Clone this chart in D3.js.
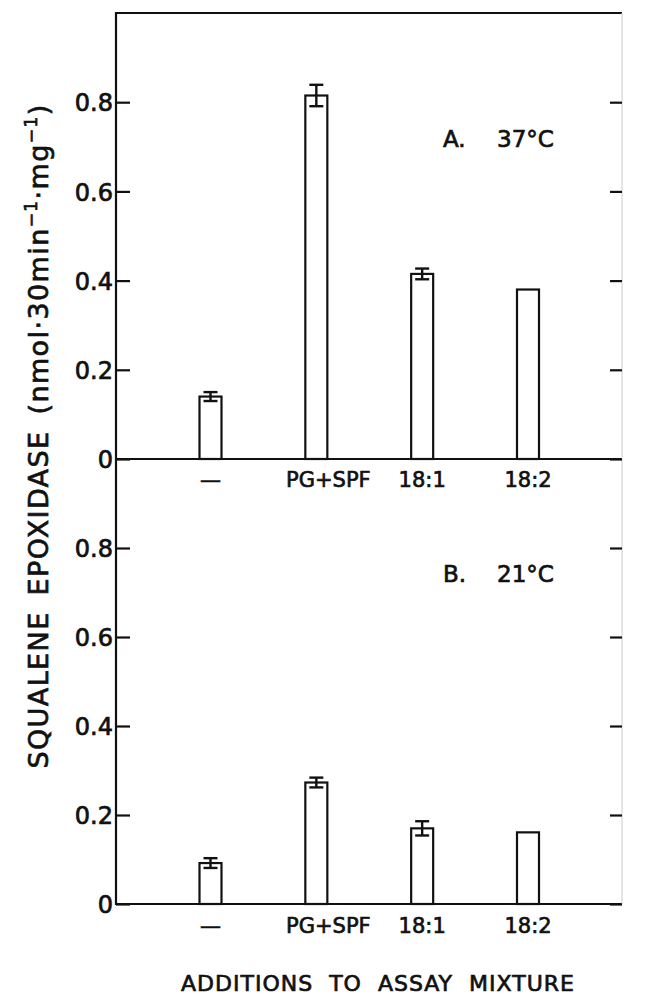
<!DOCTYPE html>
<html>
<head>
<meta charset="utf-8">
<script src="https://cdn.jsdelivr.net/npm/d3@7"></script>
<style>
  html, body { margin: 0; padding: 0; background: #fff; }
  svg { display: block; }
  text { font-family: "DejaVu Sans", "Liberation Sans", sans-serif; fill: #111; stroke: #111; stroke-width: 0.7px; }
</style>
</head>
<body>
<svg id="chart" width="645" height="996"></svg>
<script>
// ---- data ----
const categories = ["\u2014", "PG+SPF", "18:1", "18:2"];
const valuesA = [0.14, 0.815, 0.415, 0.38];      // A. 37°C
const errorsA = [0.01, 0.024, 0.012, 0];
const valuesB = [0.092, 0.273, 0.170, 0.161];    // B. 21°C
const errorsB = [0.011, 0.011, 0.016, 0];
const yTicks = [0, 0.2, 0.4, 0.6, 0.8];
const yTickLabels = ["0", "0.2", "0.4", "0.6", "0.8"];
const panelLabels = [["A.", "37\u00B0C"], ["B.", "21\u00B0C"]];
const xTitle = "ADDITIONS TO ASSAY MIXTURE";

// ---- layout ----
const svg = d3.select("#chart");
const fLeft = 116, fRight = 622;
const fTop = 13, fMid = 459, fBottom = 904;
const ink = "#111";

const x = d3.scalePoint().domain(categories).range([210.5, 528]);
const yA = d3.scaleLinear().domain([0, 1]).range([fMid, fTop]);
const yB = d3.scaleLinear().domain([0, 1]).range([fBottom, fMid]);
const barW = 22, capW = 14;

// frame
const frame = svg.append("g").attr("stroke", ink).attr("stroke-width", 2.2).attr("fill", "none");
frame.append("line").attr("x1", fLeft).attr("x2", fLeft).attr("y1", fTop - 1).attr("y2", fBottom + 1);
frame.append("line").attr("x1", fLeft - 1).attr("x2", fRight).attr("y1", fTop).attr("y2", fTop);
frame.append("line").attr("x1", fLeft - 1).attr("x2", fRight).attr("y1", fMid).attr("y2", fMid);
frame.append("line").attr("x1", fLeft - 1).attr("x2", fRight).attr("y1", fBottom).attr("y2", fBottom);
svg.append("line").attr("x1", fRight).attr("x2", fRight).attr("y1", fTop).attr("y2", fBottom)
  .attr("stroke", "#ccc").attr("stroke-width", 1);

function panel(y, values, errors, labels, labelBaseline, catBaseline) {
  const g = svg.append("g");
  // left axis ticks & labels
  const axL = d3.axisLeft(y).tickValues(yTicks).tickSize(-14)
    .tickFormat((d, i) => yTickLabels[i]).tickPadding(3);
  const gl = g.append("g").attr("transform", `translate(${fLeft},0)`).call(axL);
  gl.select(".domain").remove();
  gl.selectAll(".tick line").attr("stroke", ink).attr("stroke-width", 2.2);
  gl.selectAll(".tick text").attr("font-size", 24).attr("fill", ink)
    .attr("font-family", "DejaVu Sans").attr("dy", "0.36em");
  // right ticks
  const axR = d3.axisRight(y).tickValues(yTicks).tickSize(-12).tickFormat("");
  const gr = g.append("g").attr("transform", `translate(${fRight},0)`).call(axR);
  gr.select(".domain").remove();
  gr.selectAll(".tick line").attr("stroke", ink).attr("stroke-width", 2.2);

  // bars
  g.selectAll("rect.bar").data(values).join("rect")
    .attr("class", "bar")
    .attr("x", (d, i) => x(categories[i]) - barW / 2)
    .attr("width", barW)
    .attr("y", d => y(d))
    .attr("height", d => y(0) - y(d))
    .attr("fill", "#fff").attr("stroke", ink).attr("stroke-width", 2.2);

  // error bars
  const eb = g.selectAll("g.err").data(values.map((v, i) => ({v, e: errors[i], c: categories[i]})).filter(d => d.e > 0))
    .join("g").attr("class", "err").attr("stroke", ink).attr("stroke-width", 2.4);
  eb.append("line").attr("x1", d => x(d.c)).attr("x2", d => x(d.c))
    .attr("y1", d => y(d.v - d.e)).attr("y2", d => y(d.v + d.e));
  eb.append("line").attr("x1", d => x(d.c) - capW / 2).attr("x2", d => x(d.c) + capW / 2)
    .attr("y1", d => y(d.v + d.e)).attr("y2", d => y(d.v + d.e));
  eb.append("line").attr("x1", d => x(d.c) - capW / 2).attr("x2", d => x(d.c) + capW / 2)
    .attr("y1", d => y(d.v - d.e)).attr("y2", d => y(d.v - d.e));

  // category labels
  g.selectAll("text.cat").data(categories).join("text")
    .attr("class", "cat")
    .attr("x", d => x(d) + (d === "PG+SPF" ? 12 : 0))
    .attr("y", catBaseline)
    .attr("text-anchor", "middle")
    .attr("font-size", 21)
    .text(d => d);

  // panel label
  g.append("text").attr("x", 443).attr("y", labelBaseline).attr("font-size", 23).text(labels[0]);
  g.append("text").attr("x", 497).attr("y", labelBaseline).attr("font-size", 23).text(labels[1]);
}

panel(yA, valuesA, errorsA, panelLabels[0], 147, 487);
panel(yB, valuesB, errorsB, panelLabels[1], 582, 933);

// y title
const yt = svg.append("text")
  .attr("transform", "translate(48,436) rotate(-90)")
  .attr("text-anchor", "middle")
  .attr("font-size", 27)
  .attr("letter-spacing", 1.4)
  .attr("word-spacing", 6);
yt.append("tspan").text("SQUALENE EPOXIDASE (nmol\u00B730min");
yt.append("tspan").attr("font-size", 17).attr("dy", -11).text("\u22121");
yt.append("tspan").attr("dy", 11).text("\u00B7mg");
yt.append("tspan").attr("font-size", 17).attr("dy", -11).text("\u22121");
yt.append("tspan").attr("dy", 11).text(")");

// x title
svg.append("text")
  .attr("x", 378).attr("y", 991)
  .attr("text-anchor", "middle")
  .attr("font-size", 22)
  .attr("word-spacing", 8)
  .attr("letter-spacing", 1)
  .text(xTitle);
</script>
</body>
</html>
